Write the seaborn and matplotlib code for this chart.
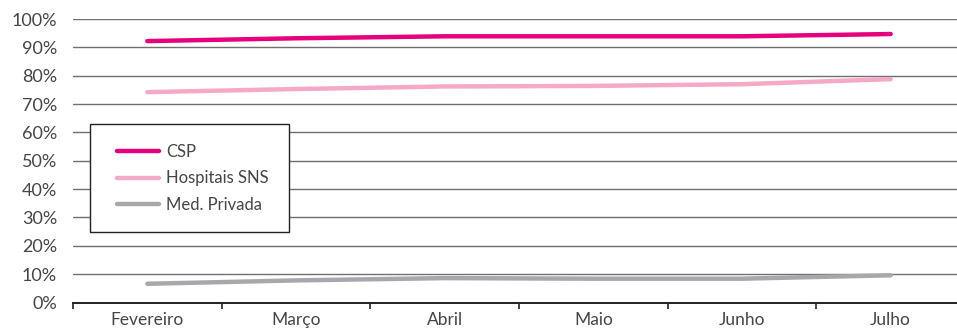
import pandas as pd
import matplotlib.pyplot as plt
import seaborn as sns
from matplotlib.patches import Rectangle
from matplotlib.ticker import MultipleLocator, PercentFormatter

# data
months = ['Fevereiro', 'Março', 'Abril', 'Maio', 'Junho', 'Julho']
csp = [92.2, 93.2, 93.9, 93.9, 93.9, 94.7]
hospitais = [74.2, 75.3, 76.2, 76.4, 77.0, 78.8]
med_privada = [6.6, 7.8, 8.6, 8.4, 8.4, 9.6]

series = ['CSP', 'Hospitais SNS', 'Med. Privada']
colors = ['#e6007e', '#f5a9c6', '#a7a8ab']

df = pd.DataFrame({
    'mes': months * 3,
    'valor': csp + hospitais + med_privada,
    'serie': [s for s in series for _ in months],
})

sns.set_style('white')
plt.rcParams['font.family'] = ['Lato', 'DejaVu Sans']

W, H = 957, 329
txt = '#454545'
fig = plt.figure(figsize=(W / 100, H / 100), dpi=100)
ax = fig.add_axes([73 / W, 26.5 / H, 892 / W, 283.5 / H])

sns.lineplot(data=df, x='mes', y='valor', hue='serie', palette=colors,
             linewidth=3.2, ax=ax, sort=False, legend=True)
for ln in ax.get_lines():
    ln.set_solid_capstyle('round')

ax.set_xlim(-0.5, 5.5)
ax.set_ylim(0, 100)
ax.yaxis.set_major_locator(MultipleLocator(10))
ax.yaxis.set_major_formatter(PercentFormatter(decimals=0))
ax.set_xlabel('')
ax.set_ylabel('')

ax.grid(axis='y', color='#707070', linewidth=1)
ax.set_axisbelow(True)
for side in ['left', 'right', 'top']:
    ax.spines[side].set_visible(False)
ax.spines['bottom'].set_color('#222222')
ax.spines['bottom'].set_linewidth(1.4)

ax.set_xticks(range(len(months)))
ax.set_xticklabels(months)
ax.set_xticks([i - 0.5 for i in range(len(months) + 1)], minor=True)
ax.tick_params(axis='x', which='major', length=0, labelsize=12.5, colors=txt, pad=6.5)
ax.tick_params(axis='x', which='minor', length=4, width=1.2, color='#222222', direction='out', bottom=True)
ax.tick_params(axis='y', length=0, labelsize=13, colors=txt, pad=11.5)

# legend: box drawn as a figure patch, entries as a figure legend on top
handles, labels = ax.get_legend_handles_labels()
ax.get_legend().remove()
box = Rectangle((90 / W, 1 - 232 / H), 199 / W, 108 / H, transform=fig.transFigure,
                facecolor='white', edgecolor='#222222', linewidth=1, zorder=1)
fig.patches.append(box)
leg = fig.legend(handles, labels, loc='upper left', bbox_to_anchor=(117 / W, 1 - 144 / H),
                 frameon=False, fontsize=12, handlelength=2.5, handletextpad=0.45,
                 labelspacing=0.62, borderpad=0, borderaxespad=0)
leg.set_zorder(2)
for lh in leg.get_lines():
    lh.set_linewidth(3.2)
    lh.set_solid_capstyle('round')
for t in leg.get_texts():
    t.set_color(txt)

fig.savefig('out.png', dpi=100)
